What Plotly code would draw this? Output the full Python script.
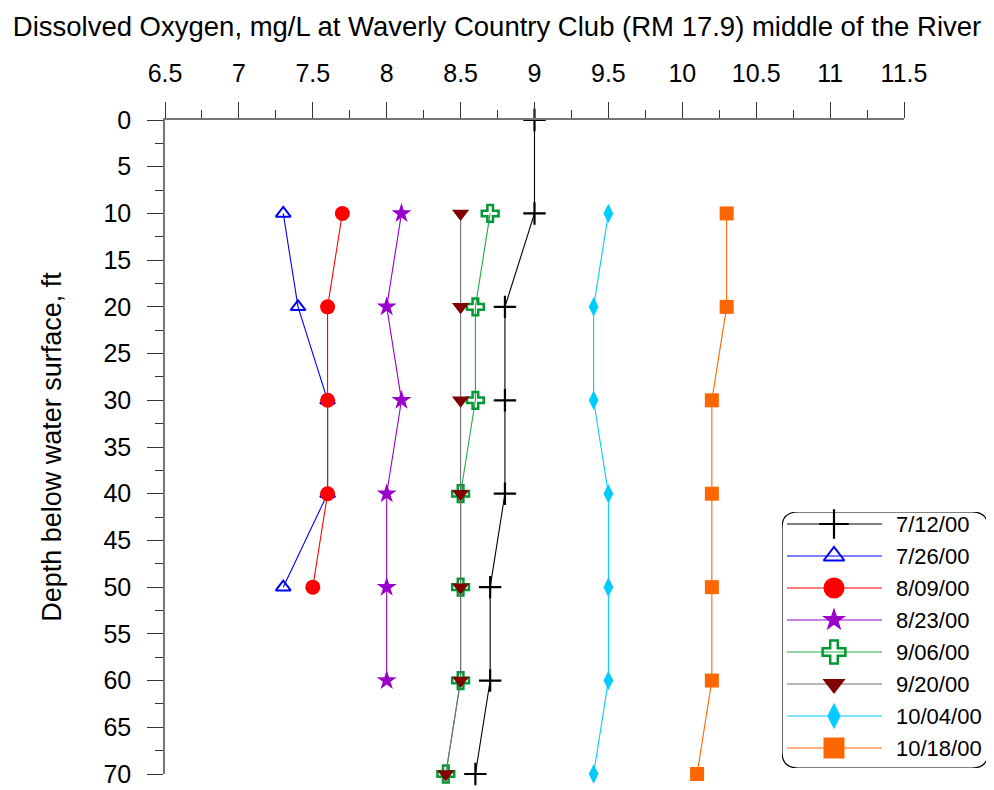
import plotly.graph_objects as go

depths = [0, 10, 20, 30, 40, 50, 60, 70]

series_names = ["7/12/00", "7/26/00", "8/09/00", "8/23/00", "9/06/00", "9/20/00", "10/04/00", "10/18/00"]

do_0712 = [9.0, 9.0, 8.8, 8.8, 8.8, 8.7, 8.7, 8.6]
do_0726 = [None, 7.3, 7.4, 7.6, 7.6, 7.3, None, None]
do_0809 = [None, 7.7, 7.6, 7.6, 7.6, 7.5, None, None]
do_0823 = [None, 8.1, 8.0, 8.1, 8.0, 8.0, 8.0, None]
do_0906 = [None, 8.7, 8.6, 8.6, 8.5, 8.5, 8.5, 8.4]
do_0920 = [None, 8.5, 8.5, 8.5, 8.5, 8.5, 8.5, 8.4]
do_1004 = [None, 9.5, 9.4, 9.4, 9.5, 9.5, 9.5, 9.4]
do_1018 = [None, 10.3, 10.3, 10.2, 10.2, 10.2, 10.2, 10.1]

x_ticks = [6.5, 7, 7.5, 8, 8.5, 9, 9.5, 10, 10.5, 11, 11.5]
x_tick_labels = ["6.5", "7", "7.5", "8", "8.5", "9", "9.5", "10", "10.5", "11", "11.5"]
y_ticks = [0, 5, 10, 15, 20, 25, 30, 35, 40, 45, 50, 55, 60, 65, 70]

values = [do_0712, do_0726, do_0809, do_0823, do_0906, do_0920, do_1004, do_1018]
styles = [
    dict(line="#000000", mcolor="#000000", symbol="cross-thin", size=16, lsize=21, mline=2.2),
    dict(line="#0000FF", mcolor="#0000FF", symbol="triangle-up-open", size=13, lsize=18, mline=2),
    dict(line="#FF0000", mcolor="#FF0000", symbol="circle", size=15, lsize=21, mline=0),
    dict(line="#9900CC", mcolor="#9900CC", symbol="star", size=15, lsize=18, mline=0),
    dict(line="#22AA44", mcolor="#009933", symbol="cross-open", size=14, lsize=19, mline=2.5),
    dict(line="#707070", mcolor="#800000", symbol="triangle-down", size=15, lsize=20, mline=0),
    dict(line="#00CCFF", mcolor="#00CCFF", symbol="diamond-tall", size=14, lsize=19, mline=0),
    dict(line="#FF6600", mcolor="#FF6600", symbol="square", size=14, lsize=21, mline=0),
]

# the page places the figure 8px from the top-left corner
OFF = 8
W, H = 994 - OFF, 790 - OFF
# main plot area in figure pixels
PL, PR, PT, PB = 165 - OFF, 904 - OFF, 120 - OFF, 774 - OFF
# legend box in figure pixels
LL, LR, LT, LB = 782 - OFF, 988 - OFF, 512 - OFF, 768 - OFF
ROW = 32

font = "Liberation Sans, Arial, sans-serif"

fig = go.Figure()
for i, (name, vals, st) in enumerate(zip(series_names, values, styles)):
    xs = [v for v in vals if v is not None]
    ys = [d for d, v in zip(depths, vals) if v is not None]
    mk = dict(symbol=st["symbol"], color=st["mcolor"], line=dict(width=st["mline"], color=st["mcolor"]))
    fig.add_trace(go.Scatter(
        x=xs, y=ys, name=name, mode="lines+markers",
        line=dict(color=st["line"], width=1.1),
        marker=dict(size=st["size"], **mk),
        cliponaxis=False, showlegend=False,
    ))
    # legend sample on the legend axes (pixel units inside the legend box)
    yc = 12 + ROW * i
    fig.add_trace(go.Scatter(
        x=[5, 100], y=[yc, yc], mode="lines", line=dict(color=st["line"], width=1.1),
        xaxis="x2", yaxis="y2", showlegend=False, hoverinfo="skip", cliponaxis=False,
    ))
    fig.add_trace(go.Scatter(
        x=[52], y=[yc], mode="markers", marker=dict(size=st["lsize"], **mk),
        xaxis="x2", yaxis="y2", showlegend=False, hoverinfo="skip", cliponaxis=False,
    ))
    fig.add_annotation(x=112, y=yc, xref="x2", yref="y2", text=name, showarrow=False,
                       xanchor="left", yanchor="middle", font=dict(family=font, size=22, color="#000"))

lw, lh = LR - LL, LB - LT
r = 16
box_path = (f"M {r},0 L {lw - r},0 Q {lw},0 {lw},{r} L {lw},{lh - r} Q {lw},{lh} {lw - r},{lh} "
            f"L {r},{lh} Q 0,{lh} 0,{lh - r} L 0,{r} Q 0,0 {r},0 Z")
fig.add_shape(type="path", path=box_path, xref="x2", yref="y2",
              line=dict(color="#000000", width=1.2), fillcolor="rgba(0,0,0,0)", layer="below")

fig.update_layout(
    width=W, height=H,
    margin=dict(l=0, r=0, t=0, b=0),
    paper_bgcolor="white", plot_bgcolor="white",
    font=dict(family=font, size=25, color="#000000"),
    title=dict(text="Dissolved Oxygen, mg/L at Waverly Country Club (RM 17.9) middle of the River",
               x=(497 - OFF) / W, xanchor="center", xref="paper", y=1 - (26 - OFF) / H,
               yanchor="middle", yref="container",
               font=dict(family=font, size=27.5, color="#000000")),
    showlegend=False,
    xaxis=dict(domain=[PL / W, PR / W], anchor="y",
               range=[6.5, 11.5], side="top", tickvals=x_ticks, ticktext=x_tick_labels,
               ticks="outside", ticklen=16, tickwidth=1, tickcolor="#333333",
               showline=True, linecolor="#777777", linewidth=1.5,
               showgrid=False, zeroline=False, automargin=False,
               tickfont=dict(size=25),
               minor=dict(dtick=0.25, tick0=6.5, ticks="outside", ticklen=8, tickcolor="#333333"),
               ticklabelstandoff=10),
    yaxis=dict(domain=[1 - PB / H, 1 - PT / H], anchor="x",
               range=[70, 0], tickvals=y_ticks,
               ticks="outside", ticklen=16, tickwidth=1, tickcolor="#333333",
               showline=True, linecolor="#777777", linewidth=1.5,
               showgrid=False, zeroline=False, automargin=False,
               tickfont=dict(size=25),
               minor=dict(dtick=2.5, tick0=0, ticks="outside", ticklen=8, tickcolor="#333333"),
               ticklabelstandoff=11,
               title=dict(text="Depth below water surface, ft", standoff=34,
                          font=dict(family=font, size=27))),
    xaxis2=dict(domain=[LL / W, LR / W], range=[0, lw], visible=False, fixedrange=True, anchor="y2"),
    yaxis2=dict(domain=[1 - LB / H, 1 - LT / H], range=[lh, 0], visible=False, fixedrange=True, anchor="x2"),
)

fig.write_html("out.html")
